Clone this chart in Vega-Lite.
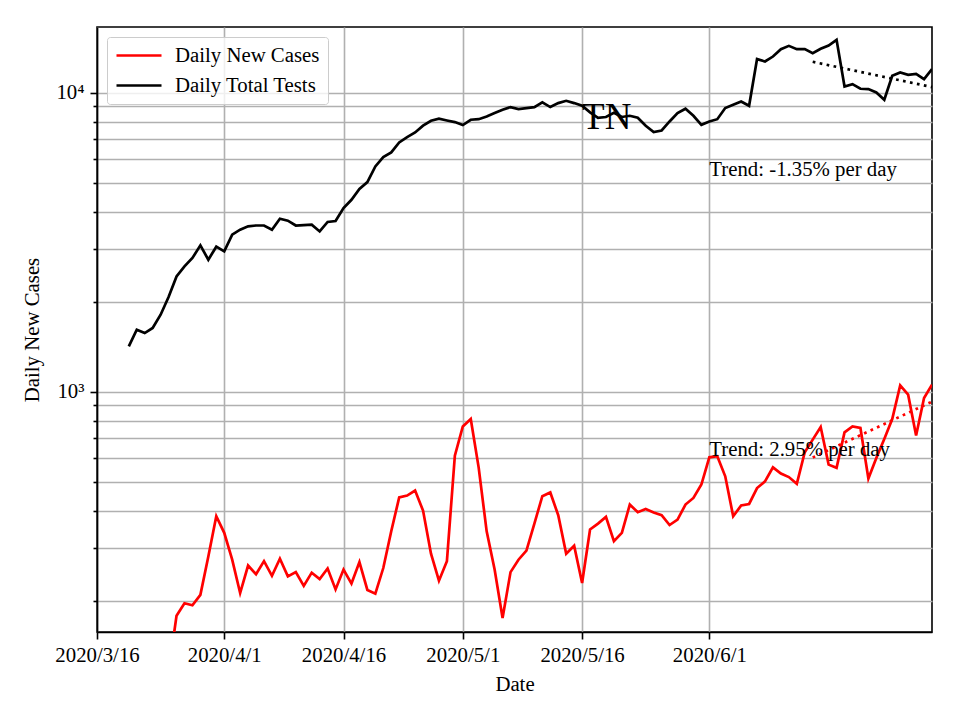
{
  "$schema": "https://vega.github.io/schema/vega-lite/v6.json",
  "width": 835,
  "height": 605,
  "autosize": {"type": "none"},
  "padding": {"left": 97, "top": 27, "right": 28, "bottom": 88},
  "background": "white",
  "config": {
    "font": "Liberation Serif",
    "view": {"stroke": "black", "strokeWidth": 1.6},
    "axis": {
      "labelFont": "Liberation Serif", "titleFont": "Liberation Serif",
      "labelFontSize": 20.8, "titleFontSize": 20.8, "titleFontWeight": "normal",
      "labelColor": "black", "titleColor": "black",
      "gridColor": "#b0b0b0", "gridWidth": 1.6, "gridOpacity": 1,
      "domainColor": "black", "domainWidth": 1.6,
      "tickColor": "black", "tickWidth": 1.6, "tickSize": 7, "labelPadding": 5
    }
  },
  "datasets": {
    "daily": [
      {"date": "2020/03/20", "Daily Total Tests": 1418},
      {"date": "2020/03/21", "Daily Total Tests": 1611},
      {"date": "2020/03/22", "Daily Total Tests": 1571},
      {"date": "2020/03/23", "Daily Total Tests": 1633},
      {"date": "2020/03/24", "Daily Total Tests": 1809},
      {"date": "2020/03/25", "Daily Total Tests": 2073, "Daily New Cases": 115},
      {"date": "2020/03/26", "Daily Total Tests": 2430, "Daily New Cases": 178},
      {"date": "2020/03/27", "Daily Total Tests": 2625, "Daily New Cases": 196},
      {"date": "2020/03/28", "Daily Total Tests": 2800, "Daily New Cases": 193},
      {"date": "2020/03/29", "Daily Total Tests": 3086, "Daily New Cases": 209},
      {"date": "2020/03/30", "Daily Total Tests": 2764, "Daily New Cases": 281},
      {"date": "2020/03/31", "Daily Total Tests": 3055, "Daily New Cases": 383},
      {"date": "2020/04/01", "Daily Total Tests": 2946, "Daily New Cases": 337},
      {"date": "2020/04/02", "Daily Total Tests": 3351, "Daily New Cases": 274},
      {"date": "2020/04/03", "Daily Total Tests": 3483, "Daily New Cases": 212},
      {"date": "2020/04/04", "Daily Total Tests": 3573, "Daily New Cases": 262},
      {"date": "2020/04/05", "Daily Total Tests": 3597, "Daily New Cases": 245},
      {"date": "2020/04/06", "Daily Total Tests": 3597, "Daily New Cases": 271},
      {"date": "2020/04/07", "Daily Total Tests": 3483, "Daily New Cases": 242},
      {"date": "2020/04/08", "Daily Total Tests": 3790, "Daily New Cases": 276},
      {"date": "2020/04/09", "Daily Total Tests": 3733, "Daily New Cases": 241},
      {"date": "2020/04/10", "Daily Total Tests": 3597, "Daily New Cases": 249},
      {"date": "2020/04/11", "Daily Total Tests": 3610, "Daily New Cases": 224},
      {"date": "2020/04/12", "Daily Total Tests": 3620, "Daily New Cases": 248},
      {"date": "2020/04/13", "Daily Total Tests": 3437, "Daily New Cases": 236},
      {"date": "2020/04/14", "Daily Total Tests": 3696, "Daily New Cases": 256},
      {"date": "2020/04/15", "Daily Total Tests": 3725, "Daily New Cases": 218},
      {"date": "2020/04/16", "Daily Total Tests": 4115, "Daily New Cases": 254},
      {"date": "2020/04/17", "Daily Total Tests": 4386, "Daily New Cases": 228},
      {"date": "2020/04/18", "Daily Total Tests": 4764, "Daily New Cases": 269},
      {"date": "2020/04/19", "Daily Total Tests": 5026, "Daily New Cases": 217},
      {"date": "2020/04/20", "Daily Total Tests": 5670, "Daily New Cases": 211},
      {"date": "2020/04/21", "Daily Total Tests": 6095, "Daily New Cases": 257},
      {"date": "2020/04/22", "Daily Total Tests": 6316, "Daily New Cases": 341},
      {"date": "2020/04/23", "Daily Total Tests": 6823, "Daily New Cases": 443},
      {"date": "2020/04/24", "Daily Total Tests": 7112, "Daily New Cases": 449},
      {"date": "2020/04/25", "Daily Total Tests": 7368, "Daily New Cases": 467},
      {"date": "2020/04/26", "Daily Total Tests": 7762, "Daily New Cases": 400},
      {"date": "2020/04/27", "Daily Total Tests": 8060, "Daily New Cases": 287},
      {"date": "2020/04/28", "Daily Total Tests": 8187, "Daily New Cases": 233},
      {"date": "2020/04/29", "Daily Total Tests": 8080, "Daily New Cases": 271},
      {"date": "2020/04/30", "Daily Total Tests": 7980, "Daily New Cases": 611},
      {"date": "2020/05/01", "Daily Total Tests": 7800, "Daily New Cases": 765},
      {"date": "2020/05/02", "Daily Total Tests": 8124, "Daily New Cases": 810},
      {"date": "2020/05/03", "Daily Total Tests": 8160, "Daily New Cases": 556},
      {"date": "2020/05/04", "Daily Total Tests": 8329, "Daily New Cases": 341},
      {"date": "2020/05/05", "Daily Total Tests": 8551, "Daily New Cases": 254},
      {"date": "2020/05/06", "Daily Total Tests": 8771, "Daily New Cases": 175},
      {"date": "2020/05/07", "Daily Total Tests": 8958, "Daily New Cases": 249},
      {"date": "2020/05/08", "Daily Total Tests": 8820, "Daily New Cases": 274},
      {"date": "2020/05/09", "Daily Total Tests": 8890, "Daily New Cases": 294},
      {"date": "2020/05/10", "Daily Total Tests": 8958, "Daily New Cases": 362},
      {"date": "2020/05/11", "Daily Total Tests": 9284, "Daily New Cases": 447},
      {"date": "2020/05/12", "Daily Total Tests": 8958, "Daily New Cases": 460},
      {"date": "2020/05/13", "Daily Total Tests": 9237, "Daily New Cases": 386},
      {"date": "2020/05/14", "Daily Total Tests": 9402, "Daily New Cases": 287},
      {"date": "2020/05/15", "Daily Total Tests": 9237, "Daily New Cases": 305},
      {"date": "2020/05/16", "Daily Total Tests": 9047, "Daily New Cases": 229},
      {"date": "2020/05/17", "Daily Total Tests": 8600, "Daily New Cases": 346},
      {"date": "2020/05/18", "Daily Total Tests": 8250, "Daily New Cases": 362},
      {"date": "2020/05/19", "Daily Total Tests": 8300, "Daily New Cases": 381},
      {"date": "2020/05/20", "Daily Total Tests": 8570, "Daily New Cases": 316},
      {"date": "2020/05/21", "Daily Total Tests": 8300, "Daily New Cases": 337},
      {"date": "2020/05/22", "Daily Total Tests": 8377, "Daily New Cases": 419},
      {"date": "2020/05/23", "Daily Total Tests": 8250, "Daily New Cases": 395},
      {"date": "2020/05/24", "Daily Total Tests": 7760, "Daily New Cases": 405},
      {"date": "2020/05/25", "Daily Total Tests": 7387, "Daily New Cases": 394},
      {"date": "2020/05/26", "Daily Total Tests": 7480, "Daily New Cases": 386},
      {"date": "2020/05/27", "Daily Total Tests": 8017, "Daily New Cases": 358},
      {"date": "2020/05/28", "Daily Total Tests": 8551, "Daily New Cases": 373},
      {"date": "2020/05/29", "Daily Total Tests": 8843, "Daily New Cases": 419},
      {"date": "2020/05/30", "Daily Total Tests": 8377, "Daily New Cases": 441},
      {"date": "2020/05/31", "Daily Total Tests": 7816, "Daily New Cases": 489},
      {"date": "2020/06/01", "Daily Total Tests": 8017, "Daily New Cases": 603},
      {"date": "2020/06/02", "Daily Total Tests": 8160, "Daily New Cases": 608},
      {"date": "2020/06/03", "Daily Total Tests": 8888, "Daily New Cases": 521},
      {"date": "2020/06/04", "Daily Total Tests": 9120, "Daily New Cases": 383},
      {"date": "2020/06/05", "Daily Total Tests": 9354, "Daily New Cases": 416},
      {"date": "2020/06/06", "Daily Total Tests": 9047, "Daily New Cases": 421},
      {"date": "2020/06/07", "Daily Total Tests": 12963, "Daily New Cases": 476},
      {"date": "2020/06/08", "Daily Total Tests": 12726, "Daily New Cases": 501},
      {"date": "2020/06/09", "Daily Total Tests": 13222, "Daily New Cases": 558},
      {"date": "2020/06/10", "Daily Total Tests": 13996, "Daily New Cases": 532},
      {"date": "2020/06/11", "Daily Total Tests": 14357, "Daily New Cases": 518},
      {"date": "2020/06/12", "Daily Total Tests": 13996, "Daily New Cases": 492},
      {"date": "2020/06/13", "Daily Total Tests": 13996, "Daily New Cases": 627},
      {"date": "2020/06/14", "Daily Total Tests": 13571, "Daily New Cases": 691},
      {"date": "2020/06/15", "Daily Total Tests": 14030, "Daily New Cases": 762},
      {"date": "2020/06/16", "Daily Total Tests": 14388, "Daily New Cases": 570},
      {"date": "2020/06/17", "Daily Total Tests": 15038, "Daily New Cases": 556},
      {"date": "2020/06/18", "Daily Total Tests": 10497, "Daily New Cases": 731},
      {"date": "2020/06/19", "Daily Total Tests": 10693, "Daily New Cases": 765},
      {"date": "2020/06/20", "Daily Total Tests": 10313, "Daily New Cases": 756},
      {"date": "2020/06/21", "Daily Total Tests": 10290, "Daily New Cases": 512},
      {"date": "2020/06/22", "Daily Total Tests": 10023, "Daily New Cases": 600},
      {"date": "2020/06/23", "Daily Total Tests": 9476, "Daily New Cases": 695},
      {"date": "2020/06/24", "Daily Total Tests": 11400, "Daily New Cases": 810},
      {"date": "2020/06/25", "Daily Total Tests": 11692, "Daily New Cases": 1050},
      {"date": "2020/06/26", "Daily Total Tests": 11484, "Daily New Cases": 977},
      {"date": "2020/06/27", "Daily Total Tests": 11570, "Daily New Cases": 713},
      {"date": "2020/06/28", "Daily Total Tests": 11110, "Daily New Cases": 952},
      {"date": "2020/06/29", "Daily Total Tests": 12000, "Daily New Cases": 1055}
    ],
    "trend": [
      {"date": "2020/06/14", "series": "Daily Total Tests", "value": 12696},
      {"date": "2020/06/29", "series": "Daily Total Tests", "value": 10450},
      {"date": "2020/06/14", "series": "Daily New Cases", "value": 602},
      {"date": "2020/06/29", "series": "Daily New Cases", "value": 926}
    ],
    "notes": [
      {"date": "2020/06/01", "value": 5248, "label": "Trend: -1.35% per day"},
      {"date": "2020/06/01", "value": 611, "label": "Trend: 2.95% per day"}
    ],
    "state": [
      {"date": "2020/05/16", "value": 7580, "label": "TN"}
    ]
  },
  "layer": [
    {
      "data": {"name": "daily"},
      "transform": [
        {"fold": ["Daily New Cases", "Daily Total Tests"], "as": ["series", "value"]},
        {"filter": "isValid(datum.value)"}
      ],
      "mark": {"type": "line", "strokeWidth": 2.7, "clip": true},
      "encoding": {
        "x": {
          "field": "date", "type": "temporal", "title": "Date",
          "scale": {"domain": [{"year": 2020, "month": 3, "date": 16}, {"year": 2020, "month": 6, "date": 29}]},
          "axis": {
            "values": [
              {"year": 2020, "month": 3, "date": 16},
              {"year": 2020, "month": 4, "date": 1},
              {"year": 2020, "month": 4, "date": 16},
              {"year": 2020, "month": 5, "date": 1},
              {"year": 2020, "month": 5, "date": 16},
              {"year": 2020, "month": 6, "date": 1}
            ],
            "format": "%Y/%-m/%-d", "labelPadding": 6, "titlePadding": 10, "labelFlush": false
          }
        },
        "y": {
          "field": "value", "type": "quantitative", "title": "Daily New Cases",
          "scale": {"type": "log", "domain": [157, 16600], "nice": false},
          "axis": {
            "values": [200, 300, 400, 500, 600, 700, 800, 900, 1000, 2000, 3000, 4000, 5000, 6000, 7000, 8000, 9000, 10000],
            "labelExpr": "datum.value == 1000 ? '10³' : (datum.value == 10000 ? '10⁴' : '')",
            "tickSize": {"condition": {"test": "datum.value == 1000 || datum.value == 10000", "value": 7}, "value": 4},
            "labelPadding": 6, "titlePadding": 13
          }
        },
        "color": {
          "field": "series", "type": "nominal",
          "scale": {"domain": ["Daily New Cases", "Daily Total Tests"], "range": ["#ff0000", "#000000"]},
          "legend": {
            "orient": "top-left", "offset": 10, "title": null,
            "symbolType": "stroke", "symbolSize": 2025, "symbolStrokeWidth": 2.7,
            "labelFont": "Liberation Serif", "labelFontSize": 20.8, "labelColor": "black",
            "labelOffset": 12, "padding": 8, "rowPadding": 8, "clipHeight": 21,
            "strokeColor": "#cccccc", "fillColor": "rgba(255,255,255,0.8)", "cornerRadius": 3
          }
        }
      }
    },
    {
      "data": {"name": "trend"},
      "mark": {"type": "line", "strokeWidth": 2.7, "strokeDash": [2.7, 4.4]},
      "encoding": {
        "x": {"field": "date", "type": "temporal"},
        "y": {"field": "value", "type": "quantitative"},
        "color": {"field": "series", "type": "nominal"}
      }
    },
    {
      "data": {"name": "notes"},
      "mark": {"type": "text", "align": "left", "baseline": "alphabetic", "fontSize": 20.8, "font": "Liberation Serif", "color": "black"},
      "encoding": {
        "x": {"field": "date", "type": "temporal"},
        "y": {"field": "value", "type": "quantitative"},
        "text": {"field": "label"}
      }
    },
    {
      "data": {"name": "state"},
      "mark": {"type": "text", "align": "left", "baseline": "alphabetic", "fontSize": 37, "font": "Liberation Serif", "color": "black"},
      "encoding": {
        "x": {"field": "date", "type": "temporal"},
        "y": {"field": "value", "type": "quantitative"},
        "text": {"field": "label"}
      }
    }
  ]
}
